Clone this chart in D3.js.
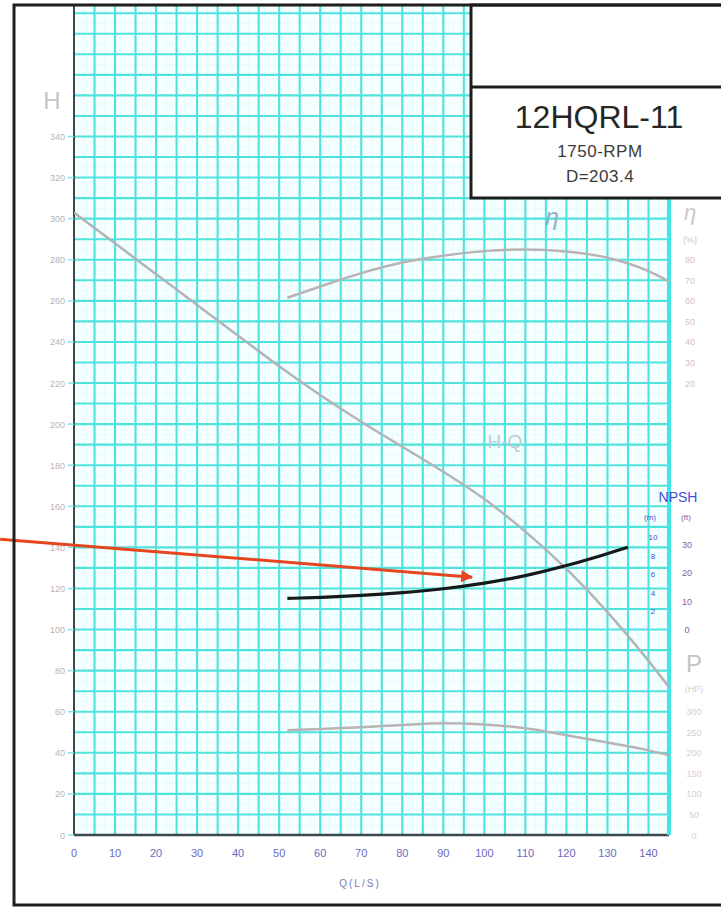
<!DOCTYPE html>
<html>
<head>
<meta charset="utf-8">
<script src="https://cdn.jsdelivr.net/npm/d3@7"></script>
<style>
    body { margin: 0; background: #fff; }
    svg { display: block; font-family: "Liberation Sans", Arial, sans-serif; }
</style>
</head>
<body>
<div id="chart"></div>
<script>
// tick labels
const flowTicks = [0, 10, 20, 30, 40, 50, 60, 70, 80, 90, 100, 110, 120, 130, 140];
const headTicks = [0, 20, 40, 60, 80, 100, 120, 140, 160, 180, 200, 220, 240, 260, 280, 300, 320, 340];
const effTicks = [20, 30, 40, 50, 60, 70, 80];
const npshMTicks = [2, 4, 6, 8, 10];
const npshFtTicks = [0, 10, 20, 30];
const powerTicks = [0, 50, 100, 150, 200, 250, 300];

// H-Q curve
const hqFlow = [0, 10, 20, 30, 40, 50, 60, 70, 80, 90, 100, 110, 120, 130, 140, 145];
const hqHead = [303, 288, 273, 258, 243, 228, 214, 201, 189, 177, 164, 148, 130, 109, 85, 72];

// efficiency curve (%)
const effFlow = [52, 60, 70, 80, 90, 100, 110, 120, 130, 140, 145];
const effValue = [61.5, 67, 73.5, 78.7, 82, 84.2, 85, 84, 81, 74.5, 69.5];

// shaft power (HP)
const powerFlow = [52, 60, 70, 80, 90, 100, 110, 120, 130, 140, 145];
const powerValue = [255, 258, 262, 268, 272, 269, 260, 243, 225, 206, 194];

// NPSH required (m)
const npshFlow = [52, 60, 70, 80, 90, 100, 110, 120, 130, 135];
const npshValue = [3.4, 3.5, 3.7, 4.0, 4.4, 5.0, 5.8, 6.9, 8.2, 8.9];

// red pointer, in flow / head units
const arrowFrom = {q: -18, h: 144};
const arrowTo = {q: 97, h: 125.5};

let width = 721,
    height = 908;

let x = d3.scaleLinear().domain([0, 145]).range([74, 669]);
let yH = d3.scaleLinear().domain([0, 404]).range([835, 5]);
let yEff = d3.scaleLinear().domain([0, 100]).range([yH(200), yH(300)]);
let yP = d3.scaleLinear().domain([0, 300]).range([yH(0), yH(60)]);
let yNm = d3.scaleLinear().domain([0, 10]).range([630, 537]);
let yNft = d3.scaleLinear().domain([0, 10 / 0.3048]).range(yNm.range());

let svg = d3.select("#chart")
    .append("svg")
    .attr("width", width)
    .attr("height", height);

let defs = svg.append("defs");
defs.append("clipPath").attr("id", "plot")
    .append("rect")
    .attr("x", x(0)).attr("y", yH(404))
    .attr("width", x(145) - x(0)).attr("height", yH(0) - yH(404));

defs.append("marker")
    .attr("id", "head")
    .attr("viewBox", "0 0 10 10")
    .attr("refX", 9).attr("refY", 5)
    .attr("markerWidth", 5).attr("markerHeight", 4)
    .attr("orient", "auto")
    .attr("markerUnits", "strokeWidth")
    .append("path")
    .attr("d", "M0,0L10,5L0,10z")
    .attr("fill", "#e5461f");

// plot background + grid
let grid = svg.append("g").attr("clip-path", "url(#plot)");
grid.append("rect")
    .attr("x", x(0)).attr("y", yH(404))
    .attr("width", x(145) - x(0)).attr("height", yH(0) - yH(404))
    .attr("fill", "#f6ffff");

grid.selectAll(".vminor")
    .data(d3.range(2.5, 145, 5))
    .enter().append("line")
    .attr("x1", d => x(d)).attr("x2", d => x(d))
    .attr("y1", yH(0)).attr("y2", yH(404))
    .attr("stroke", "#e4fcfc").attr("stroke-width", 1);

grid.selectAll(".hminor")
    .data(d3.range(5, 404, 10))
    .enter().append("line")
    .attr("x1", x(0)).attr("x2", x(145))
    .attr("y1", d => yH(d)).attr("y2", d => yH(d))
    .attr("stroke", "#e4fcfc").attr("stroke-width", 1);

grid.selectAll(".vline")
    .data(d3.range(5, 145, 5))
    .enter().append("line")
    .attr("x1", d => x(d)).attr("x2", d => x(d))
    .attr("y1", yH(0)).attr("y2", yH(404))
    .attr("stroke", "#4fe3de").attr("stroke-width", 2.1);

grid.selectAll(".hline")
    .data(d3.range(10, 404, 10))
    .enter().append("line")
    .attr("x1", x(0)).attr("x2", x(145))
    .attr("y1", d => yH(d)).attr("y2", d => yH(d))
    .attr("stroke", "#4fe3de").attr("stroke-width", 2.1);

// plot edges
svg.append("line")
    .attr("x1", x(0)).attr("x2", x(0)).attr("y1", yH(404)).attr("y2", yH(0))
    .attr("stroke", "#3a4a4a").attr("stroke-width", 2);
svg.append("line")
    .attr("x1", x(0)).attr("x2", x(145)).attr("y1", yH(0)).attr("y2", yH(0))
    .attr("stroke", "#3a4a4a").attr("stroke-width", 2.5);
svg.append("line")
    .attr("x1", x(145)).attr("x2", x(145)).attr("y1", yH(404)).attr("y2", yH(0))
    .attr("stroke", "#3fe6e6").attr("stroke-width", 4);

// left axis (H)
let left = svg.append("g");
left.selectAll("line")
    .data(headTicks)
    .enter().append("line")
    .attr("x1", x(0) - 6).attr("x2", x(0))
    .attr("y1", d => yH(d)).attr("y2", d => yH(d))
    .attr("stroke", "#7fe8e0").attr("stroke-width", 1.5);
left.selectAll("text")
    .data(headTicks)
    .enter().append("text")
    .attr("x", x(0) - 9)
    .attr("y", d => yH(d) + 3.5)
    .attr("text-anchor", "end")
    .attr("font-size", 9)
    .attr("fill", "#b4b4b4")
    .text(d => d);
svg.append("text")
    .attr("x", 52).attr("y", 109)
    .attr("text-anchor", "middle")
    .attr("font-size", 24)
    .attr("fill", "#c4c4c4")
    .text("H");

// bottom axis (Q)
svg.append("g").selectAll("text")
    .data(flowTicks)
    .enter().append("text")
    .attr("x", d => x(d))
    .attr("y", 857)
    .attr("text-anchor", "middle")
    .attr("font-size", 11)
    .attr("fill", "#6a6abf")
    .text(d => d);
svg.append("text")
    .attr("x", 360).attr("y", 887)
    .attr("text-anchor", "middle")
    .attr("font-size", 10)
    .attr("letter-spacing", 2)
    .attr("fill", "#7a7ab8")
    .text("Q(L/S)");

// efficiency axis
let effAxis = svg.append("g");
effAxis.selectAll("text")
    .data(effTicks)
    .enter().append("text")
    .attr("x", 690)
    .attr("y", d => yEff(d) + 3.5)
    .attr("text-anchor", "middle")
    .attr("font-size", 9)
    .attr("fill", "#d4c2c6")
    .text(d => d);
effAxis.append("text")
    .attr("x", 690).attr("y", 220)
    .attr("text-anchor", "middle")
    .attr("font-size", 22)
    .attr("font-style", "italic")
    .attr("fill", "#d0c4cc")
    .text("η");
effAxis.append("text")
    .attr("x", 690).attr("y", 243)
    .attr("text-anchor", "middle")
    .attr("font-size", 9)
    .attr("fill", "#d4c2c6")
    .text("(%)");

// NPSH axes
let npsh = svg.append("g");
npsh.append("text")
    .attr("x", 678).attr("y", 502)
    .attr("text-anchor", "middle")
    .attr("font-size", 14)
    .attr("fill", "#3f4fd6")
    .text("NPSH");
npsh.append("text")
    .attr("x", 650).attr("y", 520)
    .attr("text-anchor", "middle")
    .attr("font-size", 8)
    .attr("fill", "#4a5acc")
    .text("(m)");
npsh.append("text")
    .attr("x", 686).attr("y", 520)
    .attr("text-anchor", "middle")
    .attr("font-size", 8)
    .attr("fill", "#7a5fa8")
    .text("(ft)");
npsh.selectAll(".m")
    .data(npshMTicks)
    .enter().append("text")
    .attr("x", 653)
    .attr("y", d => yNm(d) + 3)
    .attr("text-anchor", "middle")
    .attr("font-size", 8)
    .attr("fill", "#3f4fd0")
    .text(d => d);
npsh.selectAll(".ft")
    .data(npshFtTicks)
    .enter().append("text")
    .attr("x", 687)
    .attr("y", d => yNft(d) + 3)
    .attr("text-anchor", "middle")
    .attr("font-size", 9)
    .attr("fill", "#7a5fa8")
    .text(d => d);

// power axis
let pAxis = svg.append("g");
pAxis.selectAll("text")
    .data(powerTicks)
    .enter().append("text")
    .attr("x", 694)
    .attr("y", d => yP(d) + 3.5)
    .attr("text-anchor", "middle")
    .attr("font-size", 9)
    .attr("fill", "#d6cdd0")
    .text(d => d);
pAxis.append("text")
    .attr("x", 694).attr("y", 672)
    .attr("text-anchor", "middle")
    .attr("font-size", 24)
    .attr("fill", "#c4c4c4")
    .text("P");
pAxis.append("text")
    .attr("x", 694).attr("y", 692)
    .attr("text-anchor", "middle")
    .attr("font-size", 9)
    .attr("fill", "#d6cdd0")
    .text("(HP)");

// curves
let curves = svg.append("g").attr("clip-path", "url(#plot)");

let hqLine = d3.line()
    .x(function (d, i) { return x(hqFlow[i]); })
    .y(function (d) { return yH(d); })
    .curve(d3.curveBasis);
curves.append("path")
    .attr("d", hqLine(hqHead))
    .attr("fill", "none").attr("stroke", "#b3b3b8").attr("stroke-width", 2.5);

let effLine = d3.line()
    .x(function (d, i) { return x(effFlow[i]); })
    .y(function (d) { return yEff(d); })
    .curve(d3.curveMonotoneX);
curves.append("path")
    .attr("d", effLine(effValue))
    .attr("fill", "none").attr("stroke", "#b9b3b6").attr("stroke-width", 2.5);

let powerLine = d3.line()
    .x(function (d, i) { return x(powerFlow[i]); })
    .y(function (d) { return yP(d); })
    .curve(d3.curveMonotoneX);
curves.append("path")
    .attr("d", powerLine(powerValue))
    .attr("fill", "none").attr("stroke", "#b9b3b6").attr("stroke-width", 2.5);

let npshLine = d3.line()
    .x(function (d, i) { return x(npshFlow[i]); })
    .y(function (d) { return yNm(d); })
    .curve(d3.curveBasis);
curves.append("path")
    .attr("d", npshLine(npshValue))
    .attr("fill", "none").attr("stroke", "#141a1a").attr("stroke-width", 3.2);

// curve labels
svg.append("text")
    .attr("x", x(116.5)).attr("y", yEff(97))
    .attr("text-anchor", "middle")
    .attr("font-size", 24)
    .attr("font-style", "italic")
    .attr("fill", "#93aecb")
    .text("η");
svg.append("text")
    .attr("x", x(105)).attr("y", yH(192) + 7)
    .attr("text-anchor", "middle")
    .attr("font-size", 19)
    .attr("fill", "#bccbd6")
    .text("H-Q");

// red pointer
svg.append("line")
    .attr("x1", x(arrowFrom.q)).attr("y1", yH(arrowFrom.h))
    .attr("x2", x(arrowTo.q)).attr("y2", yH(arrowTo.h))
    .attr("stroke", "#e5461f").attr("stroke-width", 3)
    .attr("marker-end", "url(#head)");

// title box
svg.append("rect")
    .attr("x", 471).attr("y", 5)
    .attr("width", 260).attr("height", 193)
    .attr("fill", "#fff")
    .attr("stroke", "#1e1e1e").attr("stroke-width", 3);
svg.append("line")
    .attr("x1", 471).attr("x2", 731).attr("y1", 87).attr("y2", 87)
    .attr("stroke", "#1e1e1e").attr("stroke-width", 3);
svg.append("text")
    .attr("x", 599).attr("y", 128)
    .attr("text-anchor", "middle")
    .attr("font-size", 32)
    .attr("fill", "#262626")
    .text("12HQRL-11");
svg.append("text")
    .attr("x", 600).attr("y", 157)
    .attr("text-anchor", "middle")
    .attr("font-size", 17)
    .attr("letter-spacing", 0.5)
    .attr("fill", "#3a3a3a")
    .text("1750-RPM");
svg.append("text")
    .attr("x", 600).attr("y", 182)
    .attr("text-anchor", "middle")
    .attr("font-size", 17)
    .attr("letter-spacing", 0.5)
    .attr("fill", "#3a3a3a")
    .text("D=203.4");

// outer frame
svg.append("rect")
    .attr("x", 14).attr("y", 5)
    .attr("width", 720).attr("height", 900)
    .attr("fill", "none")
    .attr("stroke", "#1e1e1e").attr("stroke-width", 3);
</script>
</body>
</html>
